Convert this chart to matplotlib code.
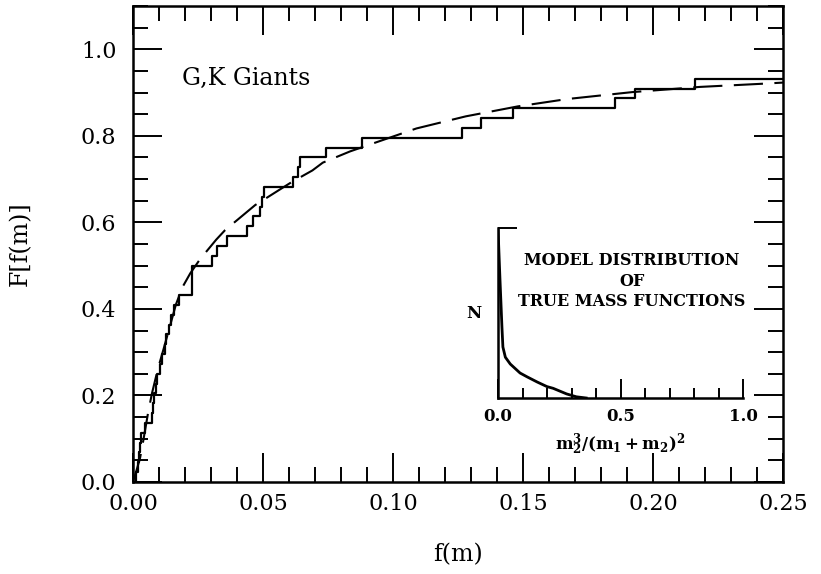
import numpy as np
import matplotlib
matplotlib.use("Agg")
import matplotlib.pyplot as plt
from matplotlib.ticker import MultipleLocator

plt.rcParams['font.family'] = 'DejaVu Serif'
plt.rcParams['mathtext.fontset'] = 'dejavuserif'

# sample size and sorted mass functions f(m) of the G,K giants
N_STARS = 44
fm_sorted = [0.0012, 0.0018, 0.0022, 0.0027, 0.0030, 0.0046, 0.0072, 0.0076,
             0.0080, 0.0088, 0.0094, 0.0104, 0.0110, 0.0122, 0.0128, 0.0140,
             0.0148, 0.0158, 0.0177, 0.0227, 0.0227, 0.0227, 0.0304, 0.0323,
             0.0362, 0.0438, 0.0462, 0.0488, 0.0496, 0.0504, 0.0615, 0.0635,
             0.0642, 0.0742, 0.0881, 0.1265, 0.1338, 0.1462, 0.1854, 0.1931,
             0.2162]

# model cumulative distribution (dashed)
model_fm = [0.0, 0.0015, 0.0027, 0.004, 0.0058, 0.0073, 0.0096, 0.0117,
            0.0142, 0.0165, 0.019, 0.022, 0.0258, 0.032, 0.0354, 0.043,
            0.047, 0.0515, 0.0565, 0.061, 0.069, 0.073, 0.0835, 0.095,
            0.109, 0.128, 0.148, 0.167, 0.192, 0.218, 0.241, 0.25]
model_F = [0.0, 0.03, 0.055, 0.097, 0.160, 0.205, 0.262, 0.306,
           0.360, 0.410, 0.450, 0.482, 0.515, 0.560, 0.582, 0.620,
           0.640, 0.657, 0.676, 0.693, 0.720, 0.738, 0.764, 0.788,
           0.817, 0.845, 0.868, 0.885, 0.901, 0.913, 0.920, 0.923]

# inset: model distribution of true mass functions
true_q = [0.0, 0.004, 0.008, 0.012, 0.016, 0.02, 0.03, 0.05, 0.09, 0.118,
          0.16, 0.2, 0.225, 0.28, 0.32, 0.36]
true_N = [1.0, 0.85, 0.70, 0.56, 0.42, 0.30, 0.24, 0.20, 0.147, 0.125,
          0.094, 0.067, 0.057, 0.024, 0.007, 0.0]

fig = plt.figure(figsize=(8.21, 5.74), dpi=100)
ax = fig.add_axes([133 / 821, 92 / 574, 650 / 821, 476 / 574])

cum = np.arange(1, len(fm_sorted) + 1) / N_STARS
xs = np.concatenate([[0.0], fm_sorted, [0.25]])
ys = np.concatenate([[0.0], cum, [cum[-1]]])
ax.step(xs, ys, where='post', color='black', lw=1.6)
ax.plot(model_fm, model_F, color='black', lw=1.5, dashes=(14, 5.5))

ax.set_xlim(0, 0.25)
ax.set_ylim(0, 1.1)
ax.xaxis.set_major_locator(MultipleLocator(0.05))
ax.xaxis.set_minor_locator(MultipleLocator(0.01))
ax.yaxis.set_major_locator(MultipleLocator(0.2))
ax.yaxis.set_minor_locator(MultipleLocator(0.05))
ax.set_xticklabels([f"{v:.2f}" for v in ax.get_xticks()])
ax.set_yticklabels([f"{v:.1f}" for v in ax.get_yticks()])
ax.tick_params(which='both', direction='in', top=True, right=True,
               labelsize=16, width=1.4)
ax.tick_params(which='major', length=21)
ax.tick_params(which='minor', length=11)
ax.tick_params(axis='x', pad=8)
ax.tick_params(axis='y', pad=12)
for sp in ax.spines.values():
    sp.set_linewidth(1.8)

ax.text(0.0188, 0.933, "G,K Giants", fontsize=17, va='center', ha='left')
fig.text(458 / 821, 1 - 555 / 574, "f(m)", fontsize=17, ha='center', va='center')
fig.text(20 / 821, 1 - 244 / 574, "F[f(m)]", fontsize=17, ha='center',
         va='center', rotation=90)

# inset panel
axi = fig.add_axes([498 / 821, 176 / 574, 245 / 821, 170 / 574])
axi.plot(true_q, true_N, color='black', lw=2)
axi.set_xlim(0, 1.0)
axi.set_ylim(0, 1.0)
axi.spines['top'].set_visible(False)
axi.spines['right'].set_visible(False)
for sp in ('left', 'bottom'):
    axi.spines[sp].set_linewidth(1.8)
axi.xaxis.set_major_locator(MultipleLocator(0.5))
axi.xaxis.set_minor_locator(MultipleLocator(0.1))
axi.set_yticks([1.0])
axi.set_yticklabels([])
axi.set_xticklabels([f"{v:.1f}" for v in axi.get_xticks()],
                    fontweight='bold')
axi.tick_params(which='both', direction='in', labelsize=12, width=1.4, pad=7)
axi.tick_params(which='major', length=14)
axi.tick_params(which='minor', length=7)
axi.patch.set_alpha(0)

axi.text(0.5, -0.275, r'$\mathbf{m_2^3/(m_1+m_2)^2}$', transform=axi.transAxes,
         fontsize=12, ha='center', va='center')
axi.text(-0.10, 0.5, "N", transform=axi.transAxes, fontsize=12,
         fontweight='bold', ha='center', va='center')
for yy, line in zip([0.806, 0.688, 0.565],
                    ["MODEL DISTRIBUTION", "OF", "TRUE MASS FUNCTIONS"]):
    axi.text(0.547, yy, line, transform=axi.transAxes, fontsize=11.5,
             fontweight='bold', ha='center', va='center')

fig.savefig("out.png", dpi=100)
